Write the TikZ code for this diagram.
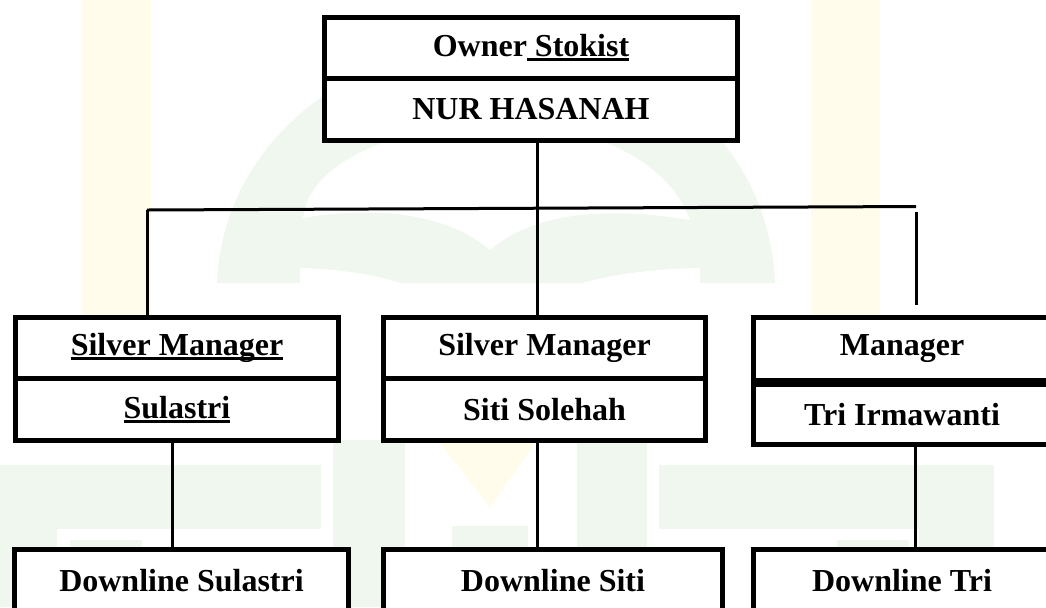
\documentclass[tikz,border=0pt]{standalone}
\usepackage{fontspec}
\setmainfont{Liberation Serif}
\definecolor{Ink}{HTML}{000000}
\definecolor{MarkGreen}{HTML}{EFF7EF}
\definecolor{MarkYellow}{HTML}{FFFCEB}
\newcommand{\barline}[1]{\setbox0\hbox{#1}\rlap{\rule[-2.2pt]{\wd0}{1.4pt}}\box0}

\begin{document}
\begin{tikzpicture}[
    x=0.5pt,y=-0.5pt,
    cell/.style={draw=Ink, line width=2.5pt, fill=white, inner sep=0pt,
      font=\fontsize{16}{19}\selectfont\bfseries},
    link/.style={draw=Ink, line width=1.5pt}
  ]
    \useasboundingbox (0,0) rectangle (1046,607);
    \clip (0,0) rectangle (1046,607);

    % faint watermark behind the chart
    \fill[MarkYellow] (82,0) rectangle (151,330);
    \fill[MarkYellow] (811,0) rectangle (880,330);
    \fill[MarkGreen] (217,283) .. controls (222,150) and (340,45) .. (500,40)
      .. controls (660,45) and (770,150) .. (775,283) -- cycle;
    \fill[white] (303,218) .. controls (310,160) and (400,125) .. (500,122)
      .. controls (600,125) and (670,165) .. (690,220)
      .. controls (600,205) and (530,215) .. (490,250)
      .. controls (450,215) and (380,205) .. (303,218) -- cycle;
    \fill[white] (300,300) -- (300,268) .. controls (380,270) and (440,290) .. (490,330)
      .. controls (540,290) and (600,270) .. (700,268) -- (700,300) -- cycle;
    \fill[MarkYellow] (440,443) -- (535,443) -- (490,508) -- cycle;
    \fill[MarkGreen] (0,465) rectangle (321,529);
    \fill[MarkGreen] (0,529) rectangle (57,607);
    \fill[MarkGreen] (70,540) rectangle (142,607);
    \fill[MarkGreen] (333,440) rectangle (405,607);
    \fill[MarkGreen] (452,526) rectangle (528,607);
    \fill[MarkGreen] (577,440) rectangle (647,607);
    \fill[MarkGreen] (659,465) rectangle (994,529);
    \fill[MarkGreen] (919,529) rectangle (994,607);
    \fill[MarkGreen] (837,540) rectangle (909,607);

    \node[cell, minimum width=206.5pt, minimum height=30.25pt] (ownerrole) at (531,47.75)
      {Owner\barline{\ Stokist}};
    \node[cell, minimum width=206.5pt, minimum height=31.25pt] (ownername) at (531,109.25)
      {NUR HASANAH};

    \node[cell, minimum width=161.5pt, minimum height=30.25pt] (sulastrirole) at (177,347.75)
      {\barline{Silver Manager}};
    \node[cell, minimum width=161.5pt, minimum height=31.25pt] (sulastriname) at (177,409.25)
      {\barline{Sulastri}};

    \node[cell, minimum width=161pt, minimum height=30.25pt] (sitirole) at (544.5,347.75)
      {Silver Manager};
    \node[cell, minimum width=161pt, minimum height=31.25pt] (sitiname) at (544.5,409.25)
      {Siti Solehah};

    \node[cell, minimum width=148.5pt, minimum height=31.25pt] (trirole) at (902,348.75)
      {Manager};
    \node[cell, minimum width=148.5pt, minimum height=30.25pt] (triname) at (902,414.25)
      {Tri Irmawanti};

    \node[cell, minimum width=167pt, minimum height=31pt] (sulastridown) at (181.5,580.5)
      {Downline Sulastri};
    \node[cell, minimum width=169.5pt, minimum height=31pt] (sitidown) at (553,580.5)
      {Downline Siti};
    \node[cell, minimum width=148.5pt, minimum height=31pt] (tridown) at (902,580.5)
      {Downline Tri};

    \coordinate (trunk) at (537,0);
    \coordinate (busL) at (147,210);
    \coordinate (busR) at (916,206.5);
    \coordinate (dropTop) at (916,212);
    \coordinate (dropEnd) at (916,305);
    \coordinate (leftstem) at (172,0);
    \coordinate (rightstem) at (915,0);

    \draw[link] (ownername.south -| trunk) -- (sitirole.north -| trunk);
    \draw[link] (busL) -- (busR);
    \draw[link] (busL) -- (sulastrirole.north -| busL);
    \draw[link] (dropTop) -- (dropEnd);
    \draw[link] (sulastriname.south -| leftstem) -- (sulastridown.north -| leftstem);
    \draw[link] (sitiname.south -| trunk) -- (sitidown.north -| trunk);
    \draw[link] (triname.south -| rightstem) -- (tridown.north -| rightstem);
  \end{tikzpicture}
\end{document}
